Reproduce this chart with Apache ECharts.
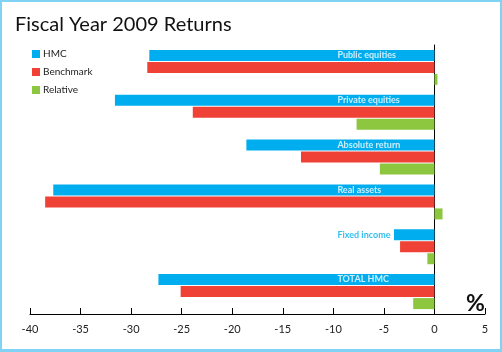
<!DOCTYPE html>
<html>
<head>
<meta charset="utf-8">
<script src="https://cdn.jsdelivr.net/npm/echarts@6/dist/echarts.min.js"></script>
<style>
  html, body { margin: 0; padding: 0; background: #fff; }
  #wrap { position: relative; width: 502px; height: 352px; }
  #chart { position: absolute; left: 0; top: 0; width: 502px; height: 352px; }
  #frame {
    position: absolute; left: 0; top: 0; width: 502px; height: 352px;
    box-sizing: border-box; border: 2px solid #80d3f4; border-bottom-width: 3px;
    pointer-events: none;
  }
</style>
</head>
<body>
<div id="wrap">
  <div id="chart"></div>
  <div id="frame"></div>
</div>
<script>
// asset classes, top to bottom
const categories = ['Public equities', 'Private equities', 'Absolute return', 'Real assets', 'Fixed income', 'TOTAL HMC'];
// returns in %
const hmc = [-28.2, -31.6, -18.6, -37.7, -4.0, -27.3];
const benchmark = [-28.4, -23.9, -13.2, -38.5, -3.4, -25.1];
const relative = [0.3, -7.7, -5.4, 0.8, -0.7, -2.1];

const blue = '#00aeef';
const red = '#ef4136';
const green = '#8dc63f';
const font = 'Lato, "DejaVu Sans", sans-serif';

// category labels sit at a fixed x inside the HMC bar
const labelX = -9.6;

const chart = echarts.init(document.getElementById('chart'));

const option = {
  animation: false,
  textStyle: { fontFamily: font },
  title: {
    text: 'Fiscal Year 2009 Returns',
    left: 15,
    top: 15,
    padding: 0,
    textStyle: { fontSize: 20, fontWeight: 'normal', color: '#111', fontFamily: font }
  },
  legend: {
    data: ['HMC', 'Benchmark', 'Relative'],
    orient: 'vertical',
    left: 32,
    top: 49,
    padding: 0,
    icon: 'rect',
    itemWidth: 8,
    itemHeight: 8,
    itemGap: 8,
    textStyle: { fontSize: 10, lineHeight: 10, color: '#222', padding: [0, 0, 0, -2], fontFamily: font }
  },
  grid: { left: 30, right: 17, top: 45, bottom: 38 },
  xAxis: {
    type: 'value',
    min: -40,
    max: 5,
    interval: 5,
    splitLine: { show: false },
    axisLine: { show: true, lineStyle: { color: '#000', width: 1 } },
    axisTick: { show: true, inside: true, length: 6, lineStyle: { color: '#000' } },
    axisLabel: { fontSize: 11, color: '#222', margin: 10, fontFamily: font }
  },
  yAxis: {
    type: 'category',
    data: categories,
    inverse: true,
    axisLine: { show: true, onZero: true, lineStyle: { color: '#000', width: 1 } },
    axisTick: { show: false },
    axisLabel: { show: false },
    splitLine: { show: false }
  },
  series: [
    { name: 'HMC', type: 'bar', data: hmc, barWidth: 11, barGap: '9%', itemStyle: { color: blue } },
    { name: 'Benchmark', type: 'bar', data: benchmark, barWidth: 11, barGap: '9%', itemStyle: { color: red } },
    { name: 'Relative', type: 'bar', data: relative, barWidth: 11, barGap: '9%', itemStyle: { color: green } },
    {
      name: 'labels',
      type: 'scatter',
      symbolSize: 0,
      silent: true,
      data: categories.map((c, i) => ({
        value: [labelX, c],
        label: { color: hmc[i] < labelX ? '#fff' : blue }
      })),
      label: {
        show: true,
        position: 'right',
        distance: 0,
        offset: [0, -12],
        fontSize: 9,
        fontWeight: 'bold',
        fontFamily: font,
        formatter: p => p.value[1]
      }
    }
  ],
  graphic: [
    {
      type: 'text',
      left: 466,
      top: 292,
      style: { text: '%', fontSize: 23, fontWeight: 'bold', fill: '#111', fontFamily: font }
    }
  ]
};

chart.setOption(option);
</script>
</body>
</html>
